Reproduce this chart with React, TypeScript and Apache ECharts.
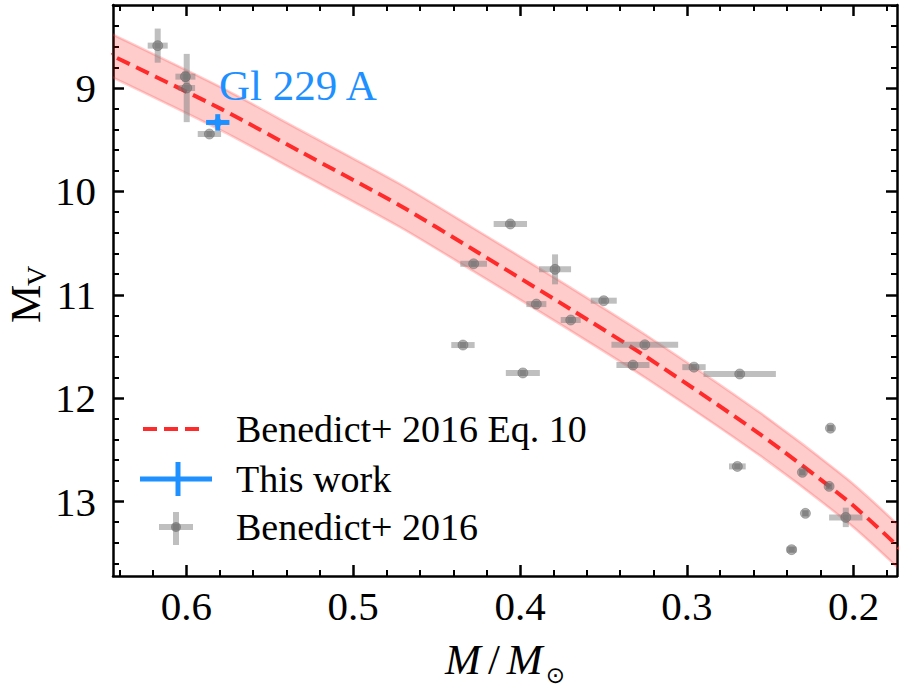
import React, { useEffect, useRef } from "react";
import * as echarts from "echarts";

// ---------- data ----------
// Benedict+ 2016 sample: mass (M/Msun), mass error, absolute V magnitude, MV error
const massBenedict = [0.6172, 0.6006, 0.5998, 0.5862, 0.4058, 0.4278, 0.379, 0.3498, 0.3902, 0.3696, 0.4342, 0.3252, 0.3983, 0.3323, 0.2957, 0.2683, 0.2139, 0.2697, 0.2307, 0.2147, 0.2289, 0.2047, 0.2372];
const massErrBenedict = [0.006, 0.006, 0.005, 0.007, 0.01, 0.008, 0.0096, 0.0078, 0.006, 0.006, 0.007, 0.02, 0.0102, 0.0099, 0.007, 0.0217, 0.002, 0.005, 0.002, 0.002, 0.002, 0.01, 0.003];
const mvBenedict = [8.59, 8.89, 9.0, 9.445, 10.315, 10.7, 10.754, 11.057, 11.09, 11.244, 11.486, 11.483, 11.756, 11.68, 11.7, 11.766, 12.29, 12.66, 12.717, 12.853, 13.114, 13.153, 13.465];
const mvErrBenedict = [0.165, 0.05, 0.33, 0.03, 0.03, 0.03, 0.145, 0.03, 0.03, 0.03, 0.03, 0.03, 0.03, 0.03, 0.03, 0.03, 0.03, 0.03, 0.03, 0.03, 0.03, 0.094, 0.03];

// This work: Gl 229 A
const massThisWork = [0.5812];
const massErrThisWork = [0.007];
const mvThisWork = [9.333];
const mvErrThisWork = [0.08];

// Benedict+ 2016 Eq. 10 relation (mass, MV) and its band
const curveMass = [0.6642, 0.6444, 0.579, 0.5322, 0.4723, 0.4279, 0.3697, 0.3253, 0.2564, 0.2042, 0.1766, 0.1544];
const curveMv = [8.538, 8.688, 9.204, 9.611, 10.134, 10.564, 11.139, 11.589, 12.345, 12.985, 13.385, 13.743];
const bandUpperMv = [8.33, 8.48, 8.996, 9.403, 9.926, 10.356, 10.931, 11.381, 12.137, 12.777, 13.177, 13.535];
const bandLowerMv = [8.746, 8.896, 9.412, 9.819, 10.342, 10.772, 11.347, 11.797, 12.553, 13.193, 13.593, 13.951];

// axes
const massTicks = [0.2, 0.3, 0.4, 0.5, 0.6];
const massMinorTicks = [0.18, 0.22, 0.24, 0.26, 0.28, 0.32, 0.34, 0.36, 0.38, 0.42, 0.44, 0.46, 0.48, 0.52, 0.54, 0.56, 0.58, 0.62, 0.64];
const mvTicks = [9, 10, 11, 12, 13];
const mvMinorTicks = [8.2, 8.4, 8.6, 8.8, 9.2, 9.4, 9.6, 9.8, 10.2, 10.4, 10.6, 10.8, 11.2, 11.4, 11.6, 11.8, 12.2, 12.4, 12.6, 12.8, 13.2, 13.4, 13.6];
const massRange = [0.174, 0.644];
const mvRange = [8.197, 13.72];

const legendLabels = ["Benedict+ 2016 Eq. 10", "This work", "Benedict+ 2016"];
const annotation = "Gl 229 A";
const yNameMain = "M";
const yNameSub = "V";

const SERIF = "Liberation Serif";
const RED = "#ff2b2b";
const BLUE = "#1e90ff";
const GRAY_BAR = "rgba(128,128,128,0.5)";
const GRAY_DOT = "rgba(105,105,105,0.65)";

function errorBarRender(color: string, width: number) {
  return (params: any, api: any) => {
    const m = api.value(0), v = api.value(1), me = api.value(2), ve = api.value(3);
    const a = api.coord([m - me, v]);
    const b = api.coord([m + me, v]);
    const c = api.coord([m, v - ve]);
    const d = api.coord([m, v + ve]);
    return {
      type: "group",
      children: [
        { type: "line", shape: { x1: a[0], y1: a[1], x2: b[0], y2: b[1] }, style: { stroke: color, lineWidth: width } },
        { type: "line", shape: { x1: c[0], y1: c[1], x2: d[0], y2: d[1] }, style: { stroke: color, lineWidth: width } },
      ],
    };
  };
}

export default function App() {
  const ref = useRef<HTMLDivElement>(null);
  useEffect(() => {
    if (!ref.current) return;
    const chart = echarts.init(ref.current, undefined, { renderer: "svg" });

    const benedictData = massBenedict.map((m, i) => [m, mvBenedict[i], massErrBenedict[i], mvErrBenedict[i]]);
    const thisData = massThisWork.map((m, i) => [m, mvThisWork[i], massErrThisWork[i], mvErrThisWork[i]]);
    const curveData = curveMass.map((m, i) => [m, curveMv[i]]);

    const axisCommon = {
      type: "value",
      scale: true,
      splitLine: { show: false },
    };
    const xBase = { ...axisCommon, min: massRange[0], max: massRange[1], inverse: true };
    const yBase = { ...axisCommon, min: mvRange[0], max: mvRange[1], inverse: true };
    const lineStyle = { color: "#000", width: 2.5 };
    const majorTick = { color: "#000", width: 2.5 };
    const minorTick = { color: "#000", width: 2 };

    const option: any = {
      animation: false,
      grid: { left: 113, right: 4, top: 5, bottom: 113, containLabel: false, outerBoundsMode: "none" },
      xAxis: [
        {
          ...xBase,
          position: "bottom",
          axisLine: { show: true, lineStyle },
          axisTick: { show: true, inside: true, length: 11, lineStyle: majorTick, customValues: massTicks },
          axisLabel: { show: true, customValues: massTicks, margin: 9, color: "#000", fontFamily: SERIF, fontSize: 41, formatter: (v: number) => v.toFixed(1) },
          name: "{i|M}{sl|/}{i|M}{s|⊙}",
          nameLocation: "middle",
          nameGap: 62,
          nameTextStyle: {
            rich: {
              i: { fontFamily: SERIF, fontStyle: "italic", fontSize: 43, color: "#000", verticalAlign: "bottom", padding: [0, 0, 5, 0] },
              sl: { fontFamily: SERIF, fontSize: 43, color: "#000", verticalAlign: "bottom", padding: [0, 7, 5, 7] },
              s: { fontFamily: "DejaVu Sans", fontSize: 23, lineHeight: 22, color: "#000", verticalAlign: "bottom", padding: [0, 0, 0, 3] },
            },
          },
        },
        {
          ...xBase,
          position: "bottom",
          axisLine: { show: false },
          axisTick: { show: true, inside: true, length: 6, lineStyle: minorTick, customValues: massMinorTicks },
          axisLabel: { show: false },
        },
        {
          ...xBase,
          position: "top",
          axisLine: { show: true, lineStyle },
          axisTick: { show: true, inside: true, length: 11, lineStyle: majorTick, customValues: massTicks },
          axisLabel: { show: false },
        },
        {
          ...xBase,
          position: "top",
          axisLine: { show: false },
          axisTick: { show: true, inside: true, length: 6, lineStyle: minorTick, customValues: massMinorTicks },
          axisLabel: { show: false },
        },
      ],
      yAxis: [
        {
          ...yBase,
          position: "left",
          axisLine: { show: true, lineStyle },
          axisTick: { show: true, inside: true, length: 11, lineStyle: majorTick, customValues: mvTicks },
          axisLabel: { show: true, customValues: mvTicks, margin: 17, color: "#000", fontFamily: SERIF, fontSize: 41 },
        },
        {
          ...yBase,
          position: "left",
          axisLine: { show: false },
          axisTick: { show: true, inside: true, length: 6, lineStyle: minorTick, customValues: mvMinorTicks },
          axisLabel: { show: false },
        },
        {
          ...yBase,
          position: "right",
          axisLine: { show: true, lineStyle },
          axisTick: { show: true, inside: true, length: 11, lineStyle: majorTick, customValues: mvTicks },
          axisLabel: { show: false },
        },
        {
          ...yBase,
          position: "right",
          axisLine: { show: false },
          axisTick: { show: true, inside: true, length: 6, lineStyle: minorTick, customValues: mvMinorTicks },
          axisLabel: { show: false },
        },
      ],
      series: [
        {
          type: "custom",
          name: "band",
          xAxisIndex: 0,
          yAxisIndex: 0,
          z: 1,
          silent: true,
          data: [[curveMass[6], curveMv[6]]],
          encode: { x: 0, y: 1 },
          renderItem: (params: any, api: any) => {
            const upper = curveMass.map((m, i) => api.coord([m, bandUpperMv[i]]));
            const lower = curveMass.map((m, i) => api.coord([m, bandLowerMv[i]]));
            const poly = upper.concat(lower.slice().reverse());
            const cs = params.coordSys;
            return {
              type: "group",
              clipPath: { type: "rect", shape: { x: cs.x, y: cs.y, width: cs.width, height: cs.height } },
              children: [
                { type: "polygon", shape: { points: poly, smooth: 0.25 }, style: { fill: "rgba(255,0,0,0.2)", stroke: "none" } },
                { type: "polyline", shape: { points: upper, smooth: 0.25 }, style: { stroke: "rgba(255,60,60,0.25)", lineWidth: 2.5, fill: "none" } },
                { type: "polyline", shape: { points: lower, smooth: 0.25 }, style: { stroke: "rgba(255,60,60,0.25)", lineWidth: 2.5, fill: "none" } },
              ],
            };
          },
        },
        {
          type: "line",
          name: legendLabels[0],
          xAxisIndex: 0,
          yAxisIndex: 0,
          z: 2,
          data: curveData,
          showSymbol: false,
          symbol: "none",
          smooth: 0.25,
          clip: true,
          lineStyle: { color: RED, width: 4, type: [14, 7] },
        },
        {
          type: "custom",
          name: legendLabels[2] + " bars",
          xAxisIndex: 0,
          yAxisIndex: 0,
          z: 3,
          data: benedictData,
          encode: { x: 0, y: 1 },
          renderItem: errorBarRender(GRAY_BAR, 6),
        },
        {
          type: "scatter",
          name: legendLabels[2],
          xAxisIndex: 0,
          yAxisIndex: 0,
          z: 4,
          data: benedictData.map((d) => [d[0], d[1]]),
          symbol: "circle",
          symbolSize: 10,
          itemStyle: { color: GRAY_DOT, borderColor: "rgba(90,90,90,0.5)", borderWidth: 1 },
        },
        {
          type: "custom",
          name: legendLabels[1] + " bars",
          xAxisIndex: 0,
          yAxisIndex: 0,
          z: 5,
          data: thisData,
          encode: { x: 0, y: 1 },
          renderItem: errorBarRender(BLUE, 5),
        },
        {
          type: "scatter",
          name: legendLabels[1],
          xAxisIndex: 0,
          yAxisIndex: 0,
          z: 6,
          data: thisData.map((d) => [d[0], d[1]]),
          symbol: "diamond",
          symbolSize: 12,
          itemStyle: { color: BLUE },
        },
      ],
      graphic: [
        // y-axis title M_V, rotated
        { type: "text", x: 25, y: 304, rotation: Math.PI / 2, z: 10, style: { text: yNameMain, fill: "#000", fontFamily: SERIF, fontSize: 43, align: "center", verticalAlign: "middle" } },
        { type: "text", x: 36, y: 276, rotation: Math.PI / 2, z: 10, style: { text: yNameSub, fill: "#000", fontFamily: SERIF, fontSize: 28, align: "center", verticalAlign: "middle" } },
        { type: "text", left: 219, top: 64, z: 10, style: { text: annotation, fill: BLUE, fontFamily: SERIF, fontSize: 43 } },
        // legend
        { type: "line", shape: { x1: 143, y1: 429, x2: 203, y2: 429 }, style: { stroke: RED, lineWidth: 4, lineDash: [14, 7] }, z: 10 },
        { type: "line", shape: { x1: 140, y1: 479, x2: 212, y2: 479 }, style: { stroke: BLUE, lineWidth: 5 }, z: 10 },
        { type: "line", shape: { x1: 178, y1: 462, x2: 178, y2: 496 }, style: { stroke: BLUE, lineWidth: 5 }, z: 10 },
        { type: "line", shape: { x1: 159, y1: 527, x2: 193, y2: 527 }, style: { stroke: GRAY_BAR, lineWidth: 6 }, z: 10 },
        { type: "line", shape: { x1: 176, y1: 512, x2: 176, y2: 545 }, style: { stroke: GRAY_BAR, lineWidth: 6 }, z: 10 },
        { type: "circle", shape: { cx: 176, cy: 527, r: 5 }, style: { fill: GRAY_DOT }, z: 10 },
        { type: "text", left: 236, top: 410, z: 10, style: { text: legendLabels[0], fill: "#000", fontFamily: SERIF, fontSize: 38 } },
        { type: "text", left: 236, top: 460, z: 10, style: { text: legendLabels[1], fill: "#000", fontFamily: SERIF, fontSize: 38 } },
        { type: "text", left: 236, top: 508, z: 10, style: { text: legendLabels[2], fill: "#000", fontFamily: SERIF, fontSize: 38 } },
      ],
    };
    chart.setOption(option);
    return () => chart.dispose();
  }, []);
  return (
    <div
      ref={ref}
      style={{ position: "fixed", left: 0, top: 0, width: 901, height: 689, background: "#fff" }}
    />
  );
}
